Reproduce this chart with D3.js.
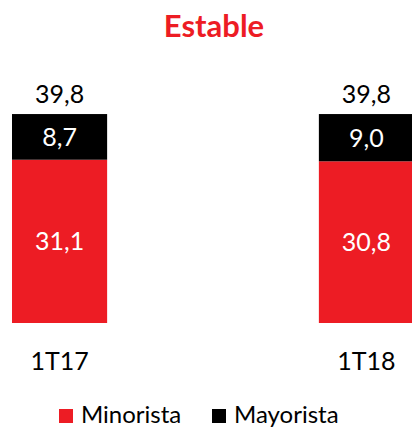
<!DOCTYPE html>
<html>
<head>
<meta charset="utf-8">
<script src="https://cdn.jsdelivr.net/npm/d3@7"></script>
<style>
  html, body { margin: 0; padding: 0; background: #fff; overflow: hidden; }
  text { font-family: Lato, "Open Sans", sans-serif; }
</style>
</head>
<body>
<div id="chart"></div>
<script>
const categories = ["1T17", "1T18"];
const minorista = [31.1, 30.8];
const mayorista = [8.7, 9.0];
const totals = [39.8, 39.8];
const seriesNames = ["Minorista", "Mayorista"];

const fmt = v => d3.format(".1f")(v).replace(".", ",");
const red = "#ED1C24";

const svg = d3.select("#chart")
    .append("svg")
    .attr("width", 412)
    .attr("height", 428);

const x = d3.scaleBand().domain(categories).range([12, 414]).paddingInner(0.69).paddingOuter(0);
const y = d3.scaleLinear().domain([0, 40]).range([323, 113]);

svg.append("text")
    .attr("x", 214)
    .attr("y", 37)
    .attr("text-anchor", "middle")
    .attr("fill", red)
    .style("font-weight", "bold")
    .style("font-size", "31px")
    .text("Estable");

const data = categories.map((c, i) => ({ cat: c, min: minorista[i], may: mayorista[i], tot: totals[i] }));

// red segment
svg.selectAll("rect.min").data(data).enter()
    .append("rect")
    .attr("class", "min")
    .attr("x", d => x(d.cat))
    .attr("width", x.bandwidth())
    .attr("y", d => y(d.min))
    .attr("height", d => y(0) - y(d.min))
    .attr("fill", red);

// black segment
svg.selectAll("rect.may").data(data).enter()
    .append("rect")
    .attr("class", "may")
    .attr("x", d => x(d.cat))
    .attr("width", x.bandwidth())
    .attr("y", d => y(d.min + d.may))
    .attr("height", d => y(d.min) - y(d.min + d.may))
    .attr("fill", "#000");

const cx = d => x(d.cat) + x.bandwidth() / 2;

svg.selectAll("text.vmin").data(data).enter()
    .append("text")
    .attr("x", cx)
    .attr("y", d => (y(0) + y(d.min)) / 2)
    .attr("dy", "0.36em")
    .attr("text-anchor", "middle")
    .attr("fill", "#fff")
    .style("font-size", "25px")
    .text(d => fmt(d.min));

svg.selectAll("text.vmay").data(data).enter()
    .append("text")
    .attr("x", cx)
    .attr("y", d => (y(d.min) + y(d.min + d.may)) / 2)
    .attr("dy", "0.36em")
    .attr("text-anchor", "middle")
    .attr("fill", "#fff")
    .style("font-size", "25px")
    .text(d => fmt(d.may));

svg.selectAll("text.tot").data(data).enter()
    .append("text")
    .attr("x", cx)
    .attr("y", d => y(d.tot) - 11)
    .attr("text-anchor", "middle")
    .attr("fill", "#000")
    .style("font-size", "25px")
    .text(d => fmt(d.tot));

svg.selectAll("text.cat").data(data).enter()
    .append("text")
    .attr("x", cx)
    .attr("y", 370)
    .attr("text-anchor", "middle")
    .attr("fill", "#000")
    .style("font-size", "25px")
    .text(d => d.cat);

// legend
const legendX = [59, 212];
const legendColors = [red, "#000"];
const lg = svg.selectAll("g.legend").data(seriesNames).enter()
    .append("g")
    .attr("transform", (d, i) => `translate(${legendX[i]},409)`);
lg.append("rect")
    .attr("width", 14)
    .attr("height", 14)
    .attr("fill", (d, i) => legendColors[i]);
lg.append("text")
    .attr("x", 22)
    .attr("y", 14)
    .attr("fill", "#000")
    .style("font-size", "24px")
    .text(d => d);
</script>
</body>
</html>
